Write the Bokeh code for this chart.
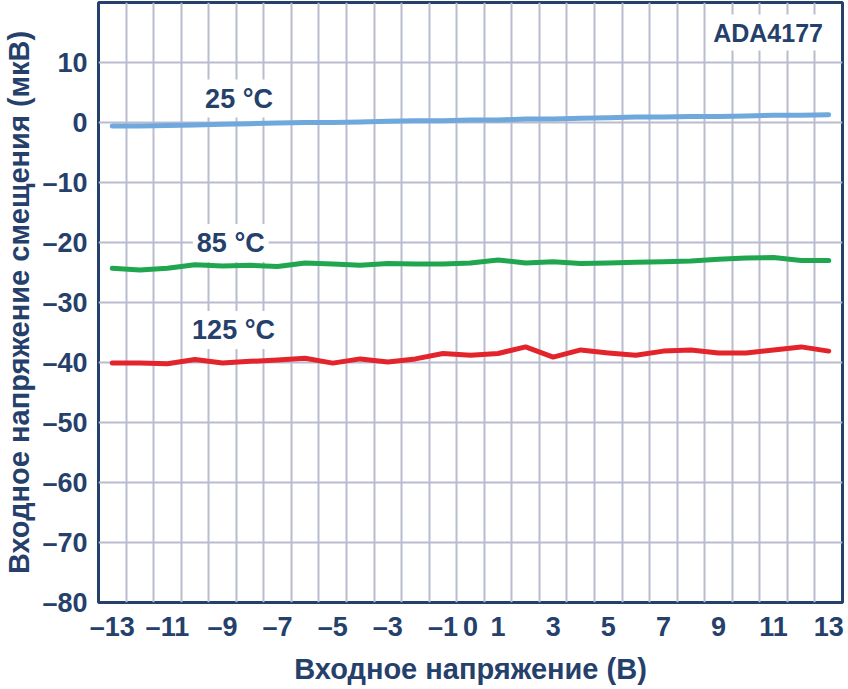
from bokeh.plotting import figure
from bokeh.models import FixedTicker, Label, Range1d
from bokeh.embed import file_html
from bokeh.resources import INLINE

# ---- data ----
x_v = list(range(-13, 14))
t25 = [-0.6, -0.6, -0.5, -0.4, -0.3, -0.2, -0.1, 0.0, 0.0, 0.1, 0.2, 0.3, 0.3, 0.4,
       0.4, 0.6, 0.6, 0.7, 0.8, 0.9, 0.9, 1.0, 1.0, 1.1, 1.2, 1.2, 1.3]
t85 = [-24.3, -24.6, -24.3, -23.7, -23.9, -23.8, -24.0, -23.4, -23.6, -23.8, -23.5, -23.6, -23.6, -23.4,
       -22.9, -23.4, -23.2, -23.5, -23.4, -23.3, -23.2, -23.1, -22.8, -22.6, -22.5, -23.0, -23.0]
t125 = [-40.1, -40.1, -40.2, -39.5, -40.1, -39.8, -39.6, -39.3, -40.1, -39.4, -39.9, -39.4, -38.5, -38.8,
        -38.5, -37.4, -39.1, -37.9, -38.4, -38.8, -38.1, -37.9, -38.4, -38.4, -37.9, -37.4, -38.1]
x_ticks = [-13, -11, -9, -7, -5, -3, -1, 0, 1, 3, 5, 7, 9, 11, 13]
y_ticks = [-80, -70, -60, -50, -40, -30, -20, -10, 0, 10]
series_labels = ["25 °C", "85 °C", "125 °C"]

NAVY = "#25406b"
FONT = "Liberation Sans"

p = figure(frame_width=744, frame_height=600, output_backend="svg", toolbar_location=None,
           x_range=Range1d(-13.5, 13.5), y_range=Range1d(-80, 20),
           min_border_left=10, min_border_right=2, min_border_top=2, min_border_bottom=4)
p.background_fill_color = "white"
p.outline_line_color = NAVY
p.outline_line_width = 3

# grids
p.xgrid.ticker = FixedTicker(ticks=[v + 0.5 for v in range(-13, 13)])
p.ygrid.ticker = FixedTicker(ticks=[-70, -60, -50, -40, -30, -20, -10, 0, 10])
for g in (p.xgrid, p.ygrid):
    g.grid_line_color = "#b9bccf"
    g.grid_line_width = 2

# axes
p.xaxis.ticker = FixedTicker(ticks=x_ticks)
p.yaxis.ticker = FixedTicker(ticks=y_ticks)
p.xaxis.major_label_overrides = {t: (str(t).replace("-", "\u2013")) for t in x_ticks}
p.yaxis.major_label_overrides = {t: (str(t).replace("-", "\u2013")) for t in y_ticks}
for ax in (p.xaxis, p.yaxis):
    ax.axis_line_color = None
    ax.major_tick_line_color = None
    ax.minor_tick_line_color = None
    ax.major_tick_out = 0
    ax.major_tick_in = 0
    ax.minor_tick_out = 0
    ax.minor_tick_in = 0
    ax.major_label_text_font = FONT
    ax.major_label_text_font_style = "bold"
    ax.major_label_text_font_size = "27px"
    ax.major_label_text_color = NAVY
    ax.axis_label_text_font = FONT
    ax.axis_label_text_font_style = "bold"
    ax.axis_label_text_font_size = "29px"
    ax.axis_label_text_color = NAVY
p.xaxis.axis_label = "Входное напряжение (В)"
p.yaxis.axis_label = "Входное напряжение смещения (мкВ)"
p.xaxis.major_label_standoff = 9
p.yaxis.major_label_standoff = 11
p.xaxis.axis_label_standoff = 8
p.yaxis.axis_label_standoff = 4

# lines
p.line(x_v, t25, line_color="#6fa8dc", line_width=5, line_cap="round", line_join="round")
p.line(x_v, t85, line_color="#1fa64f", line_width=5, line_cap="round", line_join="round")
p.line(x_v, t125, line_color="#e3242b", line_width=5, line_cap="round", line_join="round")

# labels
for txt, lx, ly in [(series_labels[0], -8.4, 4.0), (series_labels[1], -8.7, -20.1),
                    (series_labels[2], -8.6, -34.6), ("ADA4177", 10.8, 15.0)]:
    p.add_layout(Label(x=lx, y=ly, text=txt, text_align="center", text_baseline="middle",
                       text_font=FONT, text_font_style="bold",
                       text_font_size="25px" if txt == "ADA4177" else "27px",
                       text_color=NAVY, background_fill_color="white", padding=4))

open("out.html", "w").write(file_html(p, INLINE))
